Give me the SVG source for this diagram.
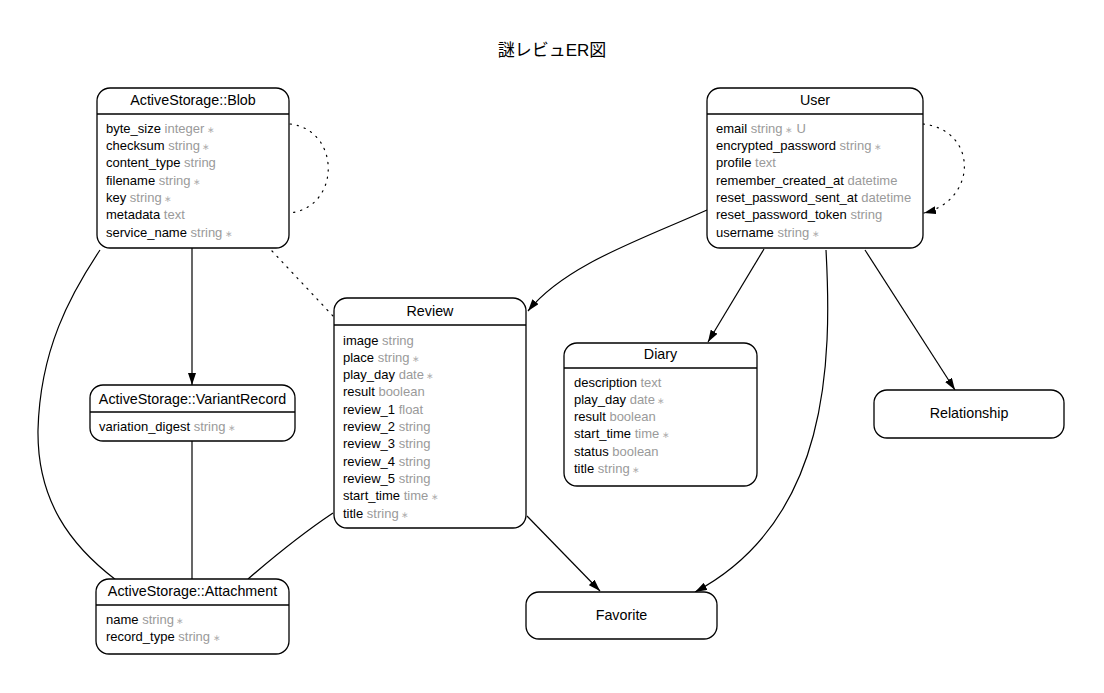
<svg xmlns="http://www.w3.org/2000/svg" width="1104" height="693" viewBox="0 0 1104 693">
  <style>
    text { font-family: "Liberation Sans", Arial, "Noto Sans CJK JP", sans-serif; fill: #000; }
    .title { font-size: 17px; text-anchor: middle; }
    .name { font-size: 14.3px; text-anchor: middle; }
    .row { font-size: 13px; }
    .typ { fill: #9a9a9a; }
    .req { fill: #b0b0b0; font-size: 9px; }
    .box { fill: #fff; stroke: #000; stroke-width: 1.3; }
    .sep { stroke: #000; stroke-width: 1.3; }
    .edge { fill: none; stroke: #000; stroke-width: 1.2; }
    .dot { stroke-dasharray: 1.3 6; stroke-linecap: round; }
  </style>
  <defs>
    <marker id="arrow" viewBox="0 0 12 8" refX="12" refY="4" markerWidth="12" markerHeight="8" markerUnits="userSpaceOnUse" orient="auto">
      <path d="M0,0 L12,4 L0,8 z" fill="#000"/>
    </marker>
  </defs>

  <rect width="1104" height="693" fill="#fff"/>
  <text class="title" x="552" y="56">謎レビュER図</text>

  <g id="connectors">
    <!-- ActiveStorage::Blob self reference -->
    <path class="edge dot" d="M290,124 C341,130 341,207 290,213"/>
    <!-- User self reference -->
    <path class="edge dot" d="M923,124 C978,130 978,200 924,213" marker-end="url(#arrow)"/>
    <!-- Blob -> VariantRecord -->
    <path class="edge" d="M192,248 L192,385" marker-end="url(#arrow)"/>
    <!-- Blob .. Review -->
    <path class="edge dot" d="M272,251 L333,316"/>
    <!-- Blob -> Attachment -->
    <path class="edge" d="M100,250 C70,295 40,350 38,430 C37,500 70,545 116,580"/>
    <!-- VariantRecord -> Attachment -->
    <path class="edge" d="M192,441 L192,579"/>
    <!-- Review -> Attachment -->
    <path class="edge" d="M333,513 C300,535 270,560 248,579"/>
    <!-- User -> Review -->
    <path class="edge" d="M707,210 C640,240 565,265 528,311" marker-end="url(#arrow)"/>
    <!-- User -> Diary -->
    <path class="edge" d="M764,249 L708,342" marker-end="url(#arrow)"/>
    <!-- User -> Favorite -->
    <path class="edge" d="M826,250 C832,360 830,520 695,592" marker-end="url(#arrow)"/>
    <!-- User -> Relationship -->
    <path class="edge" d="M865,250 L955,390" marker-end="url(#arrow)"/>
    <!-- Review -> Favorite -->
    <path class="edge" d="M527,516 L600,591" marker-end="url(#arrow)"/>
  </g>

  <g id="blob">
    <rect class="box" x="97" y="88" width="192" height="160" rx="13"/>
    <line class="sep" x1="97" y1="114" x2="289" y2="114"/>
    <text class="name" x="193" y="105">ActiveStorage::Blob</text>
    <text class="row" x="106" y="132.8">byte_size <tspan class="typ">integer</tspan><tspan class="req"> ∗</tspan></text>
    <text class="row" x="106" y="150.1">checksum <tspan class="typ">string</tspan><tspan class="req"> ∗</tspan></text>
    <text class="row" x="106" y="167.4">content_type <tspan class="typ">string</tspan></text>
    <text class="row" x="106" y="184.7">filename <tspan class="typ">string</tspan><tspan class="req"> ∗</tspan></text>
    <text class="row" x="106" y="202">key <tspan class="typ">string</tspan><tspan class="req"> ∗</tspan></text>
    <text class="row" x="106" y="219.3">metadata <tspan class="typ">text</tspan></text>
    <text class="row" x="106" y="236.6">service_name <tspan class="typ">string</tspan><tspan class="req"> ∗</tspan></text>
  </g>

  <g id="user">
    <rect class="box" x="707" y="88" width="216" height="160" rx="13"/>
    <line class="sep" x1="707" y1="114" x2="923" y2="114"/>
    <text class="name" x="815" y="105">User</text>
    <text class="row" x="716" y="132.8">email <tspan class="typ">string</tspan><tspan class="req"> ∗</tspan><tspan class="typ"> U</tspan></text>
    <text class="row" x="716" y="150.1">encrypted_password <tspan class="typ">string</tspan><tspan class="req"> ∗</tspan></text>
    <text class="row" x="716" y="167.4">profile <tspan class="typ">text</tspan></text>
    <text class="row" x="716" y="184.7">remember_created_at <tspan class="typ">datetime</tspan></text>
    <text class="row" x="716" y="202">reset_password_sent_at <tspan class="typ">datetime</tspan></text>
    <text class="row" x="716" y="219.3">reset_password_token <tspan class="typ">string</tspan></text>
    <text class="row" x="716" y="236.6">username <tspan class="typ">string</tspan><tspan class="req"> ∗</tspan></text>
  </g>

  <g id="review">
    <rect class="box" x="334" y="298" width="192" height="230" rx="13"/>
    <line class="sep" x1="334" y1="325" x2="526" y2="325"/>
    <text class="name" x="430" y="316">Review</text>
    <text class="row" x="343" y="344.5">image <tspan class="typ">string</tspan></text>
    <text class="row" x="343" y="361.8">place <tspan class="typ">string</tspan><tspan class="req"> ∗</tspan></text>
    <text class="row" x="343" y="379.1">play_day <tspan class="typ">date</tspan><tspan class="req"> ∗</tspan></text>
    <text class="row" x="343" y="396.4">result <tspan class="typ">boolean</tspan></text>
    <text class="row" x="343" y="413.7">review_1 <tspan class="typ">float</tspan></text>
    <text class="row" x="343" y="431">review_2 <tspan class="typ">string</tspan></text>
    <text class="row" x="343" y="448.3">review_3 <tspan class="typ">string</tspan></text>
    <text class="row" x="343" y="465.6">review_4 <tspan class="typ">string</tspan></text>
    <text class="row" x="343" y="482.9">review_5 <tspan class="typ">string</tspan></text>
    <text class="row" x="343" y="500.2">start_time <tspan class="typ">time</tspan><tspan class="req"> ∗</tspan></text>
    <text class="row" x="343" y="517.5">title <tspan class="typ">string</tspan><tspan class="req"> ∗</tspan></text>
  </g>

  <g id="diary">
    <rect class="box" x="564" y="343" width="193" height="143" rx="13"/>
    <line class="sep" x1="564" y1="368" x2="757" y2="368"/>
    <text class="name" x="660.5" y="359">Diary</text>
    <text class="row" x="574" y="386.5">description <tspan class="typ">text</tspan></text>
    <text class="row" x="574" y="403.8">play_day <tspan class="typ">date</tspan><tspan class="req"> ∗</tspan></text>
    <text class="row" x="574" y="421.1">result <tspan class="typ">boolean</tspan></text>
    <text class="row" x="574" y="438.4">start_time <tspan class="typ">time</tspan><tspan class="req"> ∗</tspan></text>
    <text class="row" x="574" y="455.7">status <tspan class="typ">boolean</tspan></text>
    <text class="row" x="574" y="473">title <tspan class="typ">string</tspan><tspan class="req"> ∗</tspan></text>
  </g>

  <g id="variant-record">
    <rect class="box" x="90" y="385" width="205" height="56" rx="13"/>
    <line class="sep" x1="90" y1="412" x2="295" y2="412"/>
    <text class="name" x="192.5" y="403.5">ActiveStorage::VariantRecord</text>
    <text class="row" x="99" y="431">variation_digest <tspan class="typ">string</tspan><tspan class="req"> ∗</tspan></text>
  </g>

  <g id="attachment">
    <rect class="box" x="96" y="579" width="193" height="75" rx="13"/>
    <line class="sep" x1="96" y1="605" x2="289" y2="605"/>
    <text class="name" x="192.5" y="596">ActiveStorage::Attachment</text>
    <text class="row" x="106" y="623.5">name <tspan class="typ">string</tspan><tspan class="req"> ∗</tspan></text>
    <text class="row" x="106" y="640.8">record_type <tspan class="typ">string</tspan><tspan class="req"> ∗</tspan></text>
  </g>

  <g id="relationship">
    <rect class="box" x="874" y="390" width="190" height="48" rx="13"/>
    <text class="name" x="969" y="418">Relationship</text>
  </g>

  <g id="favorite">
    <rect class="box" x="526" y="592" width="191" height="47" rx="13"/>
    <text class="name" x="621.5" y="620">Favorite</text>
  </g>
</svg>
